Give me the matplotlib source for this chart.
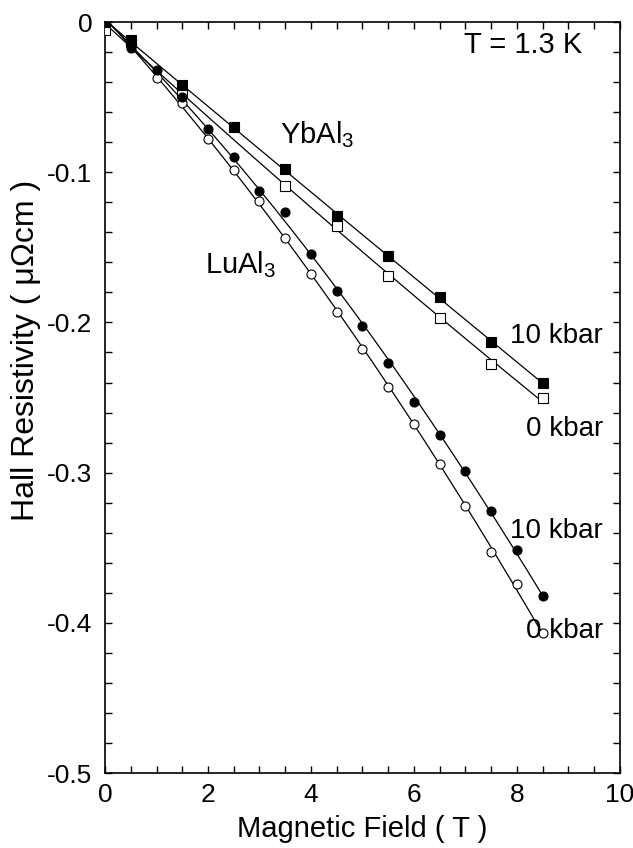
import matplotlib
matplotlib.use("Agg")
import matplotlib.pyplot as plt
import numpy as np
from matplotlib.ticker import MultipleLocator

plt.rcParams['font.family'] = ['Liberation Sans', 'DejaVu Sans']
plt.rcParams['mathtext.fontset'] = 'custom'
plt.rcParams['mathtext.rm'] = 'Liberation Sans'
plt.rcParams['mathtext.it'] = 'Liberation Sans'

# YbAl3 (squares)
field_yb10 = [0, 0.5, 1.5, 2.5, 3.5, 4.5, 5.5, 6.5, 7.5, 8.5]
yb_10kbar = [0, -0.012, -0.042, -0.070, -0.098, -0.129, -0.156, -0.183, -0.213, -0.240]
field_yb0 = [0, 0.5, 1.5, 3.5, 4.5, 5.5, 6.5, 7.5, 8.5]
yb_0kbar = [-0.005, -0.013, -0.047, -0.109, -0.136, -0.169, -0.197, -0.228, -0.250]

# LuAl3 (circles)
field_lu = [0, 0.5, 1, 1.5, 2, 2.5, 3, 3.5, 4, 4.5, 5, 5.5, 6, 6.5, 7, 7.5, 8, 8.5]
lu_10kbar = [0, -0.017, -0.032, -0.050, -0.0715, -0.090, -0.1125, -0.1267, -0.1547,
             -0.179, -0.2024, -0.2268, -0.2528, -0.2752, -0.2987, -0.3254, -0.3518, -0.3822]
lu_0kbar = [0, -0.015, -0.0375, -0.0537, -0.078, -0.0985, -0.119, -0.1436, -0.168,
            -0.1929, -0.2177, -0.243, -0.2676, -0.2945, -0.3222, -0.353, -0.3744, -0.407]

x_ticks = [0, 2, 4, 6, 8, 10]
x_ticklabels = ['0', '2', '4', '6', '8', '10']
y_ticks = [-0.5, -0.4, -0.3, -0.2, -0.1, 0]
y_ticklabels = ['-0.5', '-0.4', '-0.3', '-0.2', '-0.1', '0']

fig = plt.figure(figsize=(6.33, 8.48), dpi=100)
ax = fig.add_axes([0.166, 0.0884, 0.813, 0.8856])

def fitline(x, y):
    x = np.asarray(x); y = np.asarray(y)
    c = np.polyfit(x, y, 2)
    xx = np.linspace(x.min(), x.max(), 200)
    ax.plot(xx, np.polyval(c, xx), color='black', lw=0.9, zorder=2)

for x, y in [(field_yb10, yb_10kbar), (field_yb0, yb_0kbar),
             (field_lu, lu_10kbar), (field_lu, lu_0kbar)]:
    fitline(x, y)

ax.plot(field_yb0, yb_0kbar, 's', ms=7, mfc='white', mec='black', mew=0.8, ls='none', zorder=3)
ax.plot(field_yb10, yb_10kbar, 's', ms=7, mfc='black', mec='black', mew=0.8, ls='none', zorder=4)
ax.plot(field_lu, lu_0kbar, 'o', ms=6.5, mfc='white', mec='black', mew=0.8, ls='none', zorder=3)
ax.plot(field_lu, lu_10kbar, 'o', ms=6.5, mfc='black', mec='black', mew=0.8, ls='none', zorder=4)

ax.set_xlim(0, 10)
ax.set_ylim(-0.5, 0)
ax.xaxis.set_minor_locator(MultipleLocator(0.5))
ax.yaxis.set_minor_locator(MultipleLocator(0.02))
ax.set_xticks(x_ticks)
ax.set_xticklabels(x_ticklabels)
ax.set_yticks(y_ticks)
ax.set_yticklabels(y_ticklabels)
ax.tick_params(which='both', direction='in', top=True, right=True, length=5, width=1,
               labelsize=19)
ax.tick_params(axis='x', which='major', pad=7)
ax.tick_params(axis='y', which='major', pad=9)
for s in ax.spines.values():
    s.set_linewidth(1.2)

ax.set_xlabel('Magnetic Field ( T )', fontsize=21, labelpad=6)
ax.set_ylabel('Hall Resistivity ( μΩcm )', fontsize=23)
ax.yaxis.set_label_coords(-0.124, 0.563)

ax.text(8.12, -0.0153, 'T = 1.3 K', fontsize=21, ha='center', va='center')
ax.text(3.4, -0.0806, r'YbAl$_{\mathregular{3}}$', fontsize=21, ha='left', va='baseline')
ax.text(1.94, -0.167, r'LuAl$_{\mathregular{3}}$', fontsize=21, ha='left', va='baseline')
ax.text(7.86, -0.2137, '10 kbar', fontsize=20, ha='left', va='baseline')
ax.text(8.17, -0.2756, '0 kbar', fontsize=20, ha='left', va='baseline')
ax.text(7.86, -0.3435, '10 kbar', fontsize=20, ha='left', va='baseline')
ax.text(8.17, -0.410, '0 kbar', fontsize=20, ha='left', va='baseline')

fig.savefig('out.png', dpi=100)
